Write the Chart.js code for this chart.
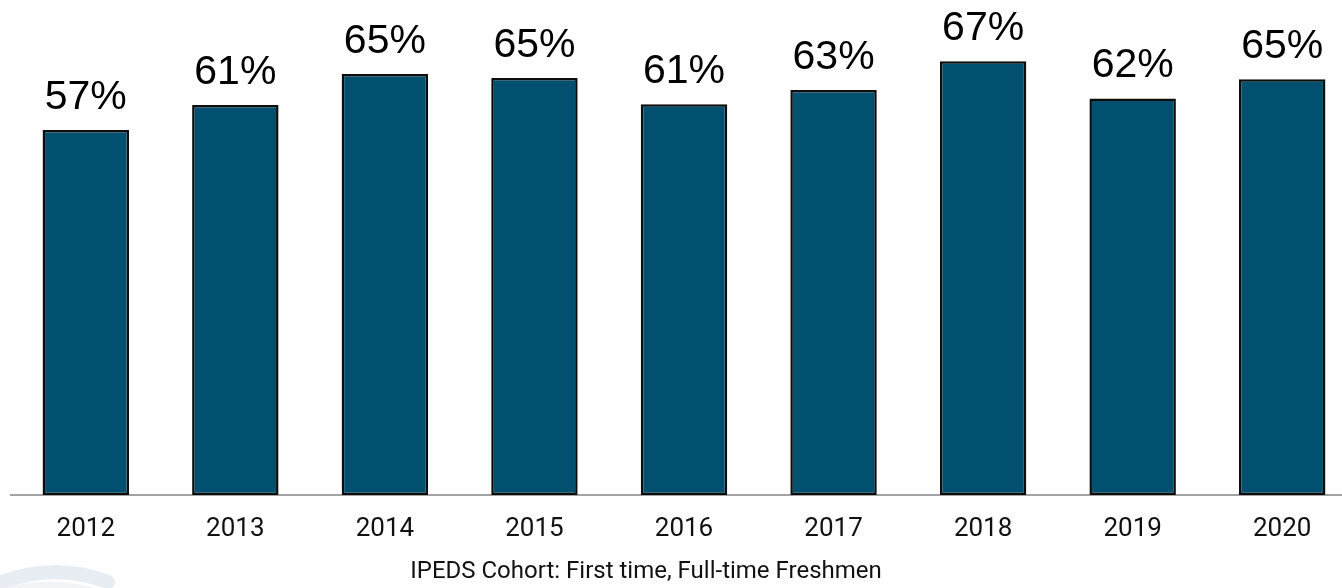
<!DOCTYPE html>
<html>
<head>
<meta charset="utf-8">
<title>IPEDS Cohort</title>
<script src="https://cdn.jsdelivr.net/npm/chart.js@4/dist/chart.umd.min.js"></script>
<style>
  html, body { margin: 0; padding: 0; background: #fff; overflow: hidden; }
  #wrap { position: relative; width: 1358px; height: 588px; }
</style>
</head>
<body>
<div id="wrap"><canvas id="chart"></canvas></div>
<script>
// cohort years and rates (%)
const years = ['2012', '2013', '2014', '2015', '2016', '2017', '2018', '2019', '2020'];
const rates = [56.7, 60.6, 65.4, 64.8, 60.7, 62.9, 67.4, 61.6, 64.6];
const axisTitle = 'IPEDS Cohort: First time, Full-time Freshmen';

// labels above each bar
const valueLabels = {
  id: 'valueLabels',
  afterDatasetsDraw(chart) {
    const ctx = chart.ctx;
    const meta = chart.getDatasetMeta(0);
    ctx.save();
    ctx.fillStyle = '#000';
    ctx.font = '41px "Liberation Sans", Arial, sans-serif';
    ctx.textAlign = 'center';
    ctx.textBaseline = 'alphabetic';
    meta.data.forEach((bar, i) => {
      ctx.fillText(Math.round(rates[i]) + '%', bar.x, bar.y - 21);
    });
    ctx.restore();
  }
};

// axis caption, sits a bit left of the plot centre in the original
const caption = {
  id: 'caption',
  afterDraw(chart) {
    const ctx = chart.ctx;
    ctx.save();
    ctx.fillStyle = '#111';
    ctx.font = '24px Roboto, sans-serif';
    ctx.textAlign = 'center';
    ctx.textBaseline = 'middle';
    ctx.fillText(axisTitle, 646, 572);
    ctx.restore();
  }
};

// faint logo smudge at the bottom left corner
const smudge = {
  id: 'smudge',
  beforeDraw(chart) {
    const ctx = chart.ctx;
    ctx.save();
    ctx.strokeStyle = '#e8edf3';
    ctx.lineWidth = 14;
    ctx.lineCap = 'round';
    ctx.beginPath();
    ctx.moveTo(-10, 587);
    ctx.quadraticCurveTo(50, 560, 108, 582);
    ctx.stroke();
    ctx.fillStyle = '#f2f5f8';
    ctx.beginPath();
    ctx.moveTo(-10, 592);
    ctx.quadraticCurveTo(50, 572, 100, 590);
    ctx.closePath();
    ctx.fill();
    ctx.restore();
  }
};

new Chart(document.getElementById('chart'), {
  type: 'bar',
  data: {
    labels: years,
    datasets: [{
      data: rates,
      backgroundColor: '#02506f',
      borderColor: '#0d0d0d',
      borderWidth: 2.5,
      borderSkipped: false,
      categoryPercentage: 1,
      barPercentage: 0.578
    }]
  },
  options: {
    responsive: true,
    maintainAspectRatio: false,
    animation: false,
    layout: { padding: { left: 11, right: 1, top: 0, bottom: 0 } },
    plugins: {
      legend: { display: false },
      tooltip: { enabled: false }
    },
    scales: {
      x: {
        z: 1,
        grid: { display: false, drawTicks: false },
        border: { display: true, color: '#a3a3a3', width: 2 },
        ticks: {
          color: '#111',
          padding: 19,
          font: { family: 'Roboto', size: 26 }
        },
        afterFit(scale) { scale.height = 93; }
      },
      y: {
        display: false,
        min: 0,
        max: 76.9
      }
    }
  },
  plugins: [valueLabels, caption, smudge]
});
</script>
</body>
</html>
